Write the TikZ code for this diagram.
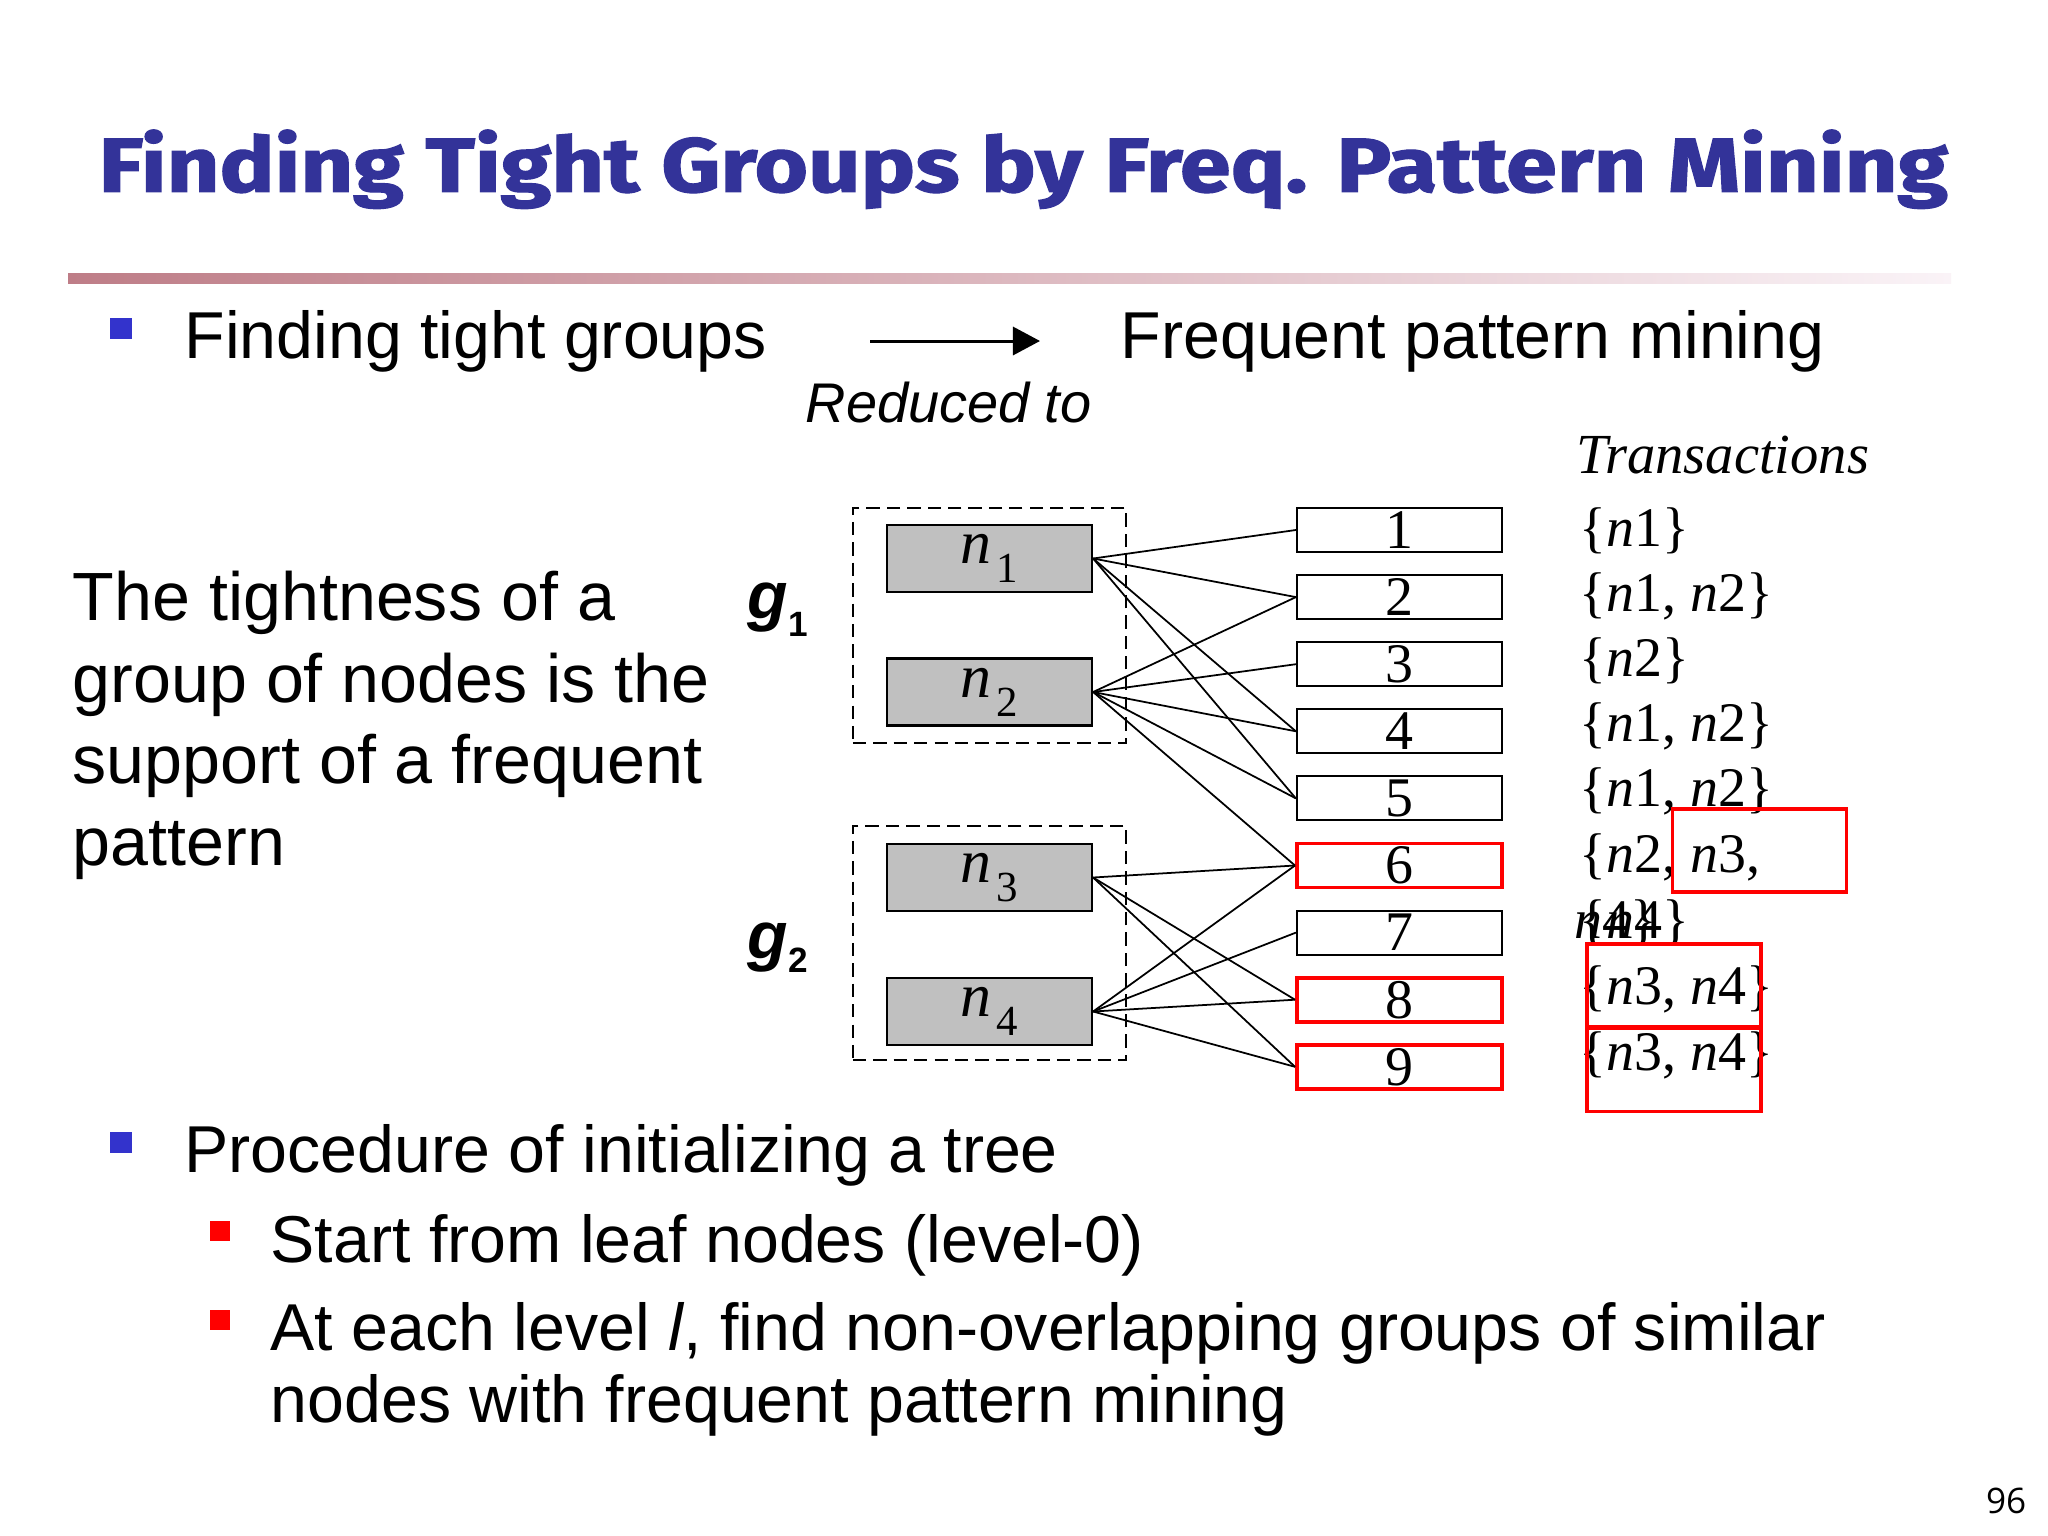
\documentclass[tikz,border=0pt]{standalone}
\usepackage{fontspec}
\setmainfont{Liberation Sans}
\newfontfamily\seriffont{Liberation Serif}
\newfontfamily\titlefont{Fira Sans}[BoldFeatures={FakeBold=1.5}]
\newfontfamily\pgnumfont{Open Sans}
\usetikzlibrary{arrows.meta}
\definecolor{titleblue}{RGB}{51,51,153}
\definecolor{bulletblue}{RGB}{51,51,204}
\definecolor{bulletred}{RGB}{255,0,0}
\definecolor{nodegray}{RGB}{192,192,192}
\definecolor{barleft}{RGB}{190,125,135}
\definecolor{barmid}{RGB}{222,170,184}
\definecolor{barright}{RGB}{250,243,247}
\newcommand{\tn}{{\itshape n}}
\tikzset{
  txt/.style={anchor=base west, inner sep=0pt, font=\fontsize{18.85}{22}\selectfont},
  ptxt/.style={anchor=base west, inner sep=0pt, font=\fontsize{19.4}{23}\selectfont},
  nbox/.style={draw, line width=0.6pt, fill=nodegray, minimum width=2.05cm, minimum height=0.67cm, inner sep=0pt, font=\seriffont\fontsize{17.6}{20}\selectfont},
  tbox/.style={draw, line width=0.6pt, minimum width=2.05cm, minimum height=0.44cm, inner sep=0pt, font=\seriffont\fontsize{15.9}{18}\selectfont},
  tred/.style={tbox, draw=red, line width=1.1pt},
  grp/.style={draw, dash pattern=on 3.8pt off 2pt, line width=0.5pt, minimum width=2.73cm, inner sep=0pt},
  link/.style={line width=0.5pt},
  trow/.style={anchor=base west, inner sep=0pt, font=\seriffont\fontsize{15.9}{18}\selectfont},
  hl/.style={draw=red, line width=1pt, minimum width=1.74cm, minimum height=0.83cm, inner sep=0pt},
  bulletb/.style={fill=bulletblue, minimum size=0.21cm, inner sep=0pt},
  bulletr/.style={fill=bulletred, minimum size=0.2cm, inner sep=0pt},
  glab/.style={anchor=base west, inner sep=0pt, font=\fontsize{18.85}{22}\selectfont\bfseries\itshape}
}
\begin{document}
\begin{tikzpicture}[x=0.01cm,y=-0.01cm]
\useasboundingbox (0,0) rectangle (2048,1536);
\fill[white] (0,0) rectangle (2048,1536);

% title
\node[anchor=north west, inner sep=0pt, text=titleblue] (title) at (98,129)
  {\resizebox*{18.48cm}{0.79cm}{\titlefont\bfseries Finding Tight Groups by Freq. Pattern Mining}};
% gradient bar
\shade[left color=barleft, middle color=barmid, right color=barright] (68,273) rectangle (1951,283);

% bullet 1
\node[bulletb] (b1) at (121,328) {};
\node[txt] (ftg) at (184,358) {Finding tight groups};
\coordinate (aS) at (870,341);
\coordinate (aE) at (1040,341);
\draw[line width=0.85pt, -{Triangle[length=7.7pt,width=8pt]}] (aS) -- (aE);
\node[txt] (fpm) at (1120,358) {Frequent pattern mining};
\node[anchor=base west, inner sep=0pt, font=\fontsize{15.9}{18}\selectfont\itshape] (red) at (805,422) {Reduced to};

% left paragraph
\node[ptxt] (p1) at (72,620) {The tightness of a};
\node[ptxt] (p2) at (72,702) {group of nodes is the};
\node[ptxt] (p3) at (72,783) {support of a frequent};
\node[ptxt] (p4) at (72,865) {pattern};

% group labels
\node[glab] (g1) at (747,618) {g\raisebox{-0.18cm}{\fontsize{10}{12}\selectfont\bfseries\upshape 1}};
\node[glab] (g2) at (747,958) {g\raisebox{-0.14cm}{\fontsize{10}{12}\selectfont\bfseries\upshape 2}};

% group dashed boxes
\node[grp, minimum height=2.35cm] (grp1) at (989.5,625.5) {};
\node[grp, minimum height=2.34cm] (grp2) at (989.5,943) {};

% n nodes
\node[nbox] (n1) at (989.5,558.5) {\tn\kern0.05cm\raisebox{-0.19cm}{\fontsize{12.2}{14}\selectfont 1}};
\node[nbox] (n2) at (989.5,692) {\tn\kern0.05cm\raisebox{-0.19cm}{\fontsize{12.2}{14}\selectfont 2}};
\node[nbox] (n3) at (989.5,877.5) {\tn\kern0.05cm\raisebox{-0.19cm}{\fontsize{12.2}{14}\selectfont 3}};
\node[nbox] (n4) at (989.5,1011.5) {\tn\kern0.05cm\raisebox{-0.19cm}{\fontsize{12.2}{14}\selectfont 4}};

% transaction boxes
\node[tbox] (t1) at (1399.5,530) {1};
\node[tbox] (t2) at (1399.5,597.1) {2};
\node[tbox] (t3) at (1399.5,664.2) {3};
\node[tbox] (t4) at (1399.5,731.3) {4};
\node[tbox] (t5) at (1399.5,798.4) {5};
\node[tred] (t6) at (1399.5,865.5) {6};
\node[tbox] (t7) at (1399.5,932.6) {7};
\node[tred] (t8) at (1399.5,999.7) {8};
\node[tred] (t9) at (1399.5,1066.8) {9};

% links
\foreach \t in {1,2,4,5} \draw[link] (n1.east) -- (t\t.west);
\foreach \t in {2,3,4,5,6} \draw[link] (n2.east) -- (t\t.west);
\foreach \t in {6,8,9} \draw[link] (n3.east) -- (t\t.west);
\foreach \t in {6,7,8,9} \draw[link] (n4.east) -- (t\t.west);

% transactions column
\node[anchor=base west, inner sep=0pt, font=\seriffont\fontsize{16.1}{18}\selectfont\itshape] (trh) at (1576,473) {Transactions};
\node[trow] (r1) at (1579,546) {\{\tn1\}};
\node[trow] (r2) at (1579,611) {\{\tn1, \tn2\}};
\node[trow] (r3) at (1579,676) {\{\tn2\}};
\node[trow] (r4) at (1579,741) {\{\tn1, \tn2\}};
\node[trow] (r5) at (1579,806) {\{\tn1, \tn2\}};
\node[trow] (r6) at (1579,872) {\{\tn2, \tn3,};
\node[trow] (r7) at (1579,938) {\{\tn4\}};
\node[trow] (r7w) at (1574,938) {\tn4\}};
\node[trow] (r8) at (1579,1004) {\{\tn3, \tn4\}};
\node[trow] (r9) at (1579,1070) {\{\tn3, \tn4\}};

% red highlight boxes
\node[hl] (hA) at (1759.5,850.5) {};
\node[hl] (hB) at (1674,985.5) {};
\node[hl] (hC) at (1674,1070) {};

% bullet 2
\node[bulletb] (b2) at (121,1142) {};
\node[txt] (proc) at (184,1172) {Procedure of initializing a tree};
\node[bulletr] (s1) at (220,1231) {};
\node[txt] (start) at (270,1262) {Start from leaf nodes (level-0)};
\node[bulletr] (s2) at (220,1320) {};
\node[txt] (each) at (270,1350) {At each level \textit{l}, find non-overlapping groups of similar};
\node[txt] (each2) at (270,1422) {nodes with frequent pattern mining};

% page number
\node[anchor=base east, inner sep=0pt, font=\pgnumfont\fontsize{10}{12}\selectfont] (pg) at (2027,1513) {96};
\end{tikzpicture}
\end{document}
